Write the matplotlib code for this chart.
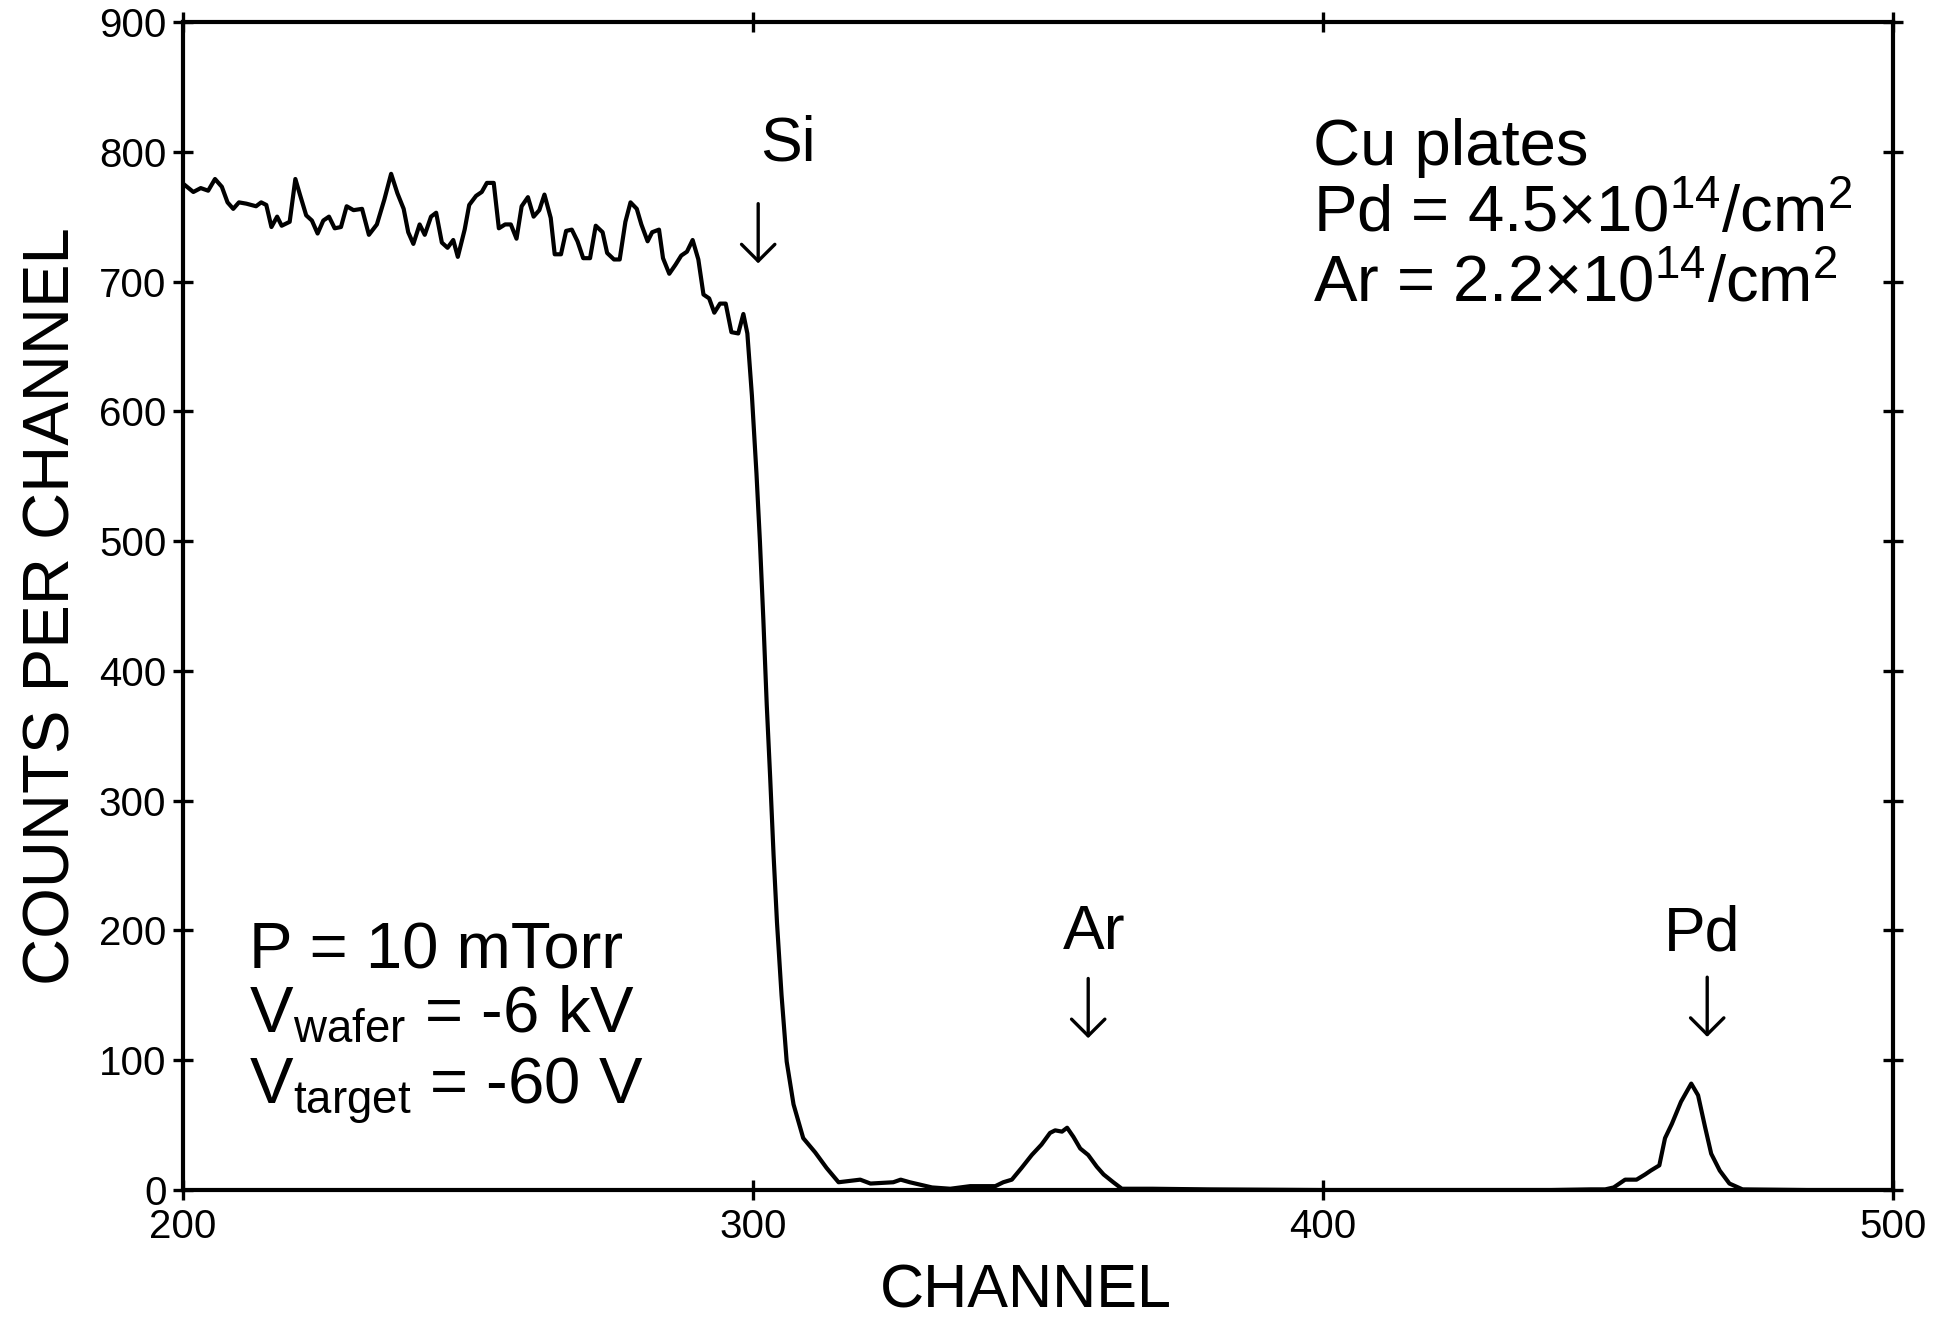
#!/usr/bin/env python3
"""RBS spectrum: counts per channel vs channel, Si edge plus Ar and Pd peaks."""
import matplotlib
matplotlib.use("Agg")
import matplotlib.pyplot as plt

plt.rcParams["font.family"] = ["Liberation Sans", "DejaVu Sans"]
plt.rcParams["mathtext.fontset"] = "custom"
plt.rcParams["mathtext.rm"] = "Liberation Sans"
plt.rcParams["mathtext.default"] = "regular"

# spectrum (channel, counts per channel)
channel = [
    200.4, 201.8, 203.1, 204.4, 205.6, 206.8, 207.8, 208.8, 209.8, 211.1,
    212.8, 213.7, 214.6, 215.5, 216.5, 217.3, 218.7, 219.7, 220.5, 221.6,
    222.6, 223.6, 224.6, 225.6, 226.6, 227.7, 228.7, 229.9, 231.4, 232.6,
    234.0, 235.3, 236.5, 237.6, 238.7, 239.5, 240.4, 241.5, 242.4, 243.5,
    244.4, 245.4, 246.4, 247.4, 248.2, 249.4, 250.2, 251.4, 252.4, 253.3,
    254.5, 255.4, 256.5, 257.5, 258.5, 259.4, 260.5, 261.5, 262.5, 263.4,
    264.5, 265.2, 266.3, 267.2, 268.2, 269.2, 270.2, 271.4, 272.4, 273.6,
    274.4, 275.6, 276.6, 277.6, 278.5, 279.6, 280.4, 281.5, 282.3, 283.5,
    284.2, 285.3, 286.4, 287.4, 288.4, 289.4, 290.4, 291.3, 292.3, 293.2,
    294.2, 295.2, 296.2, 297.4, 298.3, 299.0, 299.8,
    300.6, 301.2, 301.8, 302.4, 303.0, 303.6, 304.2, 305.0, 305.9, 307.1,
    308.8, 310.9, 312.9, 315.0, 318.8, 320.6, 324.6, 325.9, 327.5, 331.4,
    334.6, 338.1, 342.5, 343.9, 345.4, 347.1, 348.9, 350.6, 352.1, 353.0,
    354.2, 355.1, 356.2, 357.4, 358.8, 360.3, 361.5, 363.2, 364.7, 370.0,
    380.0, 400.0, 420.0, 440.0, 447.0,
    449.5, 451.0, 453.0, 455.0, 456.5, 457.5, 459.0, 460.0, 461.2, 462.8,
    464.6, 465.8, 467.0, 468.1, 469.6, 471.3, 473.6, 485.0, 500.0,
]
counts = [
    774, 769, 772, 770, 779, 773, 761, 756, 761, 760,
    758, 761, 759, 742, 750, 743, 746, 779, 767, 751,
    747, 737, 747, 750, 741, 742, 758, 755, 756, 736,
    744, 763, 783, 768, 756, 738, 729, 744, 736, 750,
    753, 730, 726, 732, 719, 740, 759, 766, 769, 776,
    776, 741, 744, 744, 733, 758, 765, 750, 755, 767,
    749, 721, 721, 739, 740, 731, 718, 718, 743, 738,
    722, 717, 717, 746, 761, 756, 744, 731, 738, 740,
    718, 706, 713, 720, 723, 732, 717, 690, 687, 676,
    683, 683, 661, 660, 675, 660, 612,
    552, 500, 440, 374, 318, 258, 206, 150, 99, 66,
    40, 29, 17, 6, 8, 5, 6, 8, 6, 2,
    1, 3, 3, 6, 8, 17, 27, 35, 44, 46,
    45, 48, 41, 32, 27, 18, 12, 6, 1, 1,
    0.5, 0, 0, 0, 0.5,
    0.5, 2, 8, 8, 12, 15, 19, 40, 51, 68,
    82, 73, 49, 28, 15, 5, 0.5, 0, 0,
]

# peak labels: name, text x, text baseline y, arrow x, arrow top y, arrow tip y
peak_names = ["Si", "Ar", "Pd"]
peak_text_x = [306.2, 359.8, 466.5]
peak_text_y = [793, 186, 184.5]
peak_arrow_x = [300.9, 358.8, 467.4]
peak_arrow_top = [760, 163, 164]
peak_arrow_tip = [714, 117, 118]

sample_lines = [
    "Cu plates",
    r"Pd = 4.5$\times$10$^{14}$/cm$^{2}$",
    r"Ar = 2.2$\times$10$^{14}$/cm$^{2}$",
]
sample_y = [790, 738, 684]
cond_lines = [
    "P = 10 mTorr",
    r"V$_{wafer}$ = -6 kV",
    r"V$_{target}$ = -60 V",
]
cond_y = [171, 122, 66]

x_ticks = [200, 300, 400, 500]
y_ticks = [0, 100, 200, 300, 400, 500, 600, 700, 800, 900]


def main() -> None:
    fig = plt.figure(figsize=(19.56, 13.23), dpi=100)
    ax = fig.add_axes([0.0936, 0.1005, 0.8742, 0.8829])

    ax.plot(channel, counts, color="black", lw=3.0, solid_joinstyle="round")

    ax.set_xlim(200, 500)
    ax.set_ylim(0, 900)
    ax.set_xticks(x_ticks)
    ax.set_yticks(y_ticks)
    for sp in ax.spines.values():
        sp.set_linewidth(3.0)
    ax.tick_params(direction="inout", length=14, width=2.4, top=True,
                   right=True, labelsize=29)
    ax.tick_params(axis="x", pad=6)
    ax.tick_params(axis="y", pad=5)

    # x label sits right at the bottom edge, keep its descent inside the figure
    ax.set_xlabel("CHANNEL", fontsize=44)
    ax.xaxis.set_label_coords(0.493, -0.0625)
    ax.set_ylabel("COUNTS PER CHANNEL", fontsize=47)
    ax.yaxis.set_label_coords(-0.059, 0.5)

    for name, tx, ty, axx, atop, atip in zip(peak_names, peak_text_x, peak_text_y,
                                            peak_arrow_x, peak_arrow_top, peak_arrow_tip):
        ax.text(tx, ty, name, fontsize=45, ha="center", va="baseline")
        ax.annotate("", xy=(axx, atip), xytext=(axx, atop),
                    arrowprops=dict(arrowstyle="->,head_length=0.6,head_width=0.6",
                                    lw=2.4, color="black", mutation_scale=20,
                                    shrinkA=0, shrinkB=0))

    for line, y in zip(sample_lines, sample_y):
        ax.text(398.2, y, line, fontsize=47, ha="left", va="baseline")
    for line, y in zip(cond_lines, cond_y):
        ax.text(211.5, y, line, fontsize=47, ha="left", va="baseline")

    fig.savefig("out.png", dpi=100)


if __name__ == "__main__":
    main()
